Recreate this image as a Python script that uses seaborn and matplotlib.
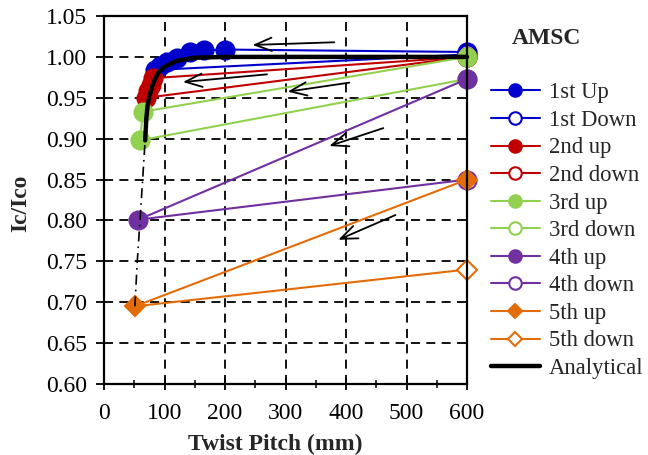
import matplotlib
matplotlib.use("Agg")
import matplotlib.pyplot as plt
import seaborn as sns
from matplotlib.ticker import MultipleLocator, FormatStrFormatter
from matplotlib.lines import Line2D

# Twist pitch (mm) and normalised critical current Ic/Ico for each bending cycle
first_up_x = [600, 200, 165, 142, 121, 104, 92, 84]
first_up_y = [1.006, 1.009, 1.008, 1.006, 0.999, 0.994, 0.989, 0.984]
first_down_x = [84, 600]
first_down_y = [0.984, 1.003]

second_up_x = [600, 81, 77, 73, 69]
second_up_y = [1.000, 0.974, 0.966, 0.958, 0.950]
second_down_x = [69, 600]
second_down_y = [0.950, 1.000]

third_up_x = [600, 64, 60]
third_up_y = [1.000, 0.933, 0.898]
third_down_x = [60, 600]
third_down_y = [0.898, 0.973]

fourth_up_x = [600, 57]
fourth_up_y = [0.973, 0.801]
fourth_down_x = [57, 600]
fourth_down_y = [0.801, 0.850]

fifth_up_x = [600, 51]
fifth_up_y = [0.850, 0.695]
fifth_down_x = [51, 600]
fifth_down_y = [0.695, 0.740]

# Analytical prediction (solid) and its extrapolation to short pitches (dash-dot)
analytical_x = [68, 70, 72, 75, 80, 85, 90, 100, 120, 150, 200, 300, 600]
analytical_y = [0.898, 0.925, 0.940, 0.952, 0.965, 0.974, 0.981, 0.988, 0.995, 0.999, 1.000, 1.000, 1.000]
extrap_x = [51, 55, 59.5, 63, 68]
extrap_y = [0.695, 0.750, 0.800, 0.840, 0.898]

# Arrows showing the direction of pitch change: (tail x, tail y, head x, head y)
arrows = [
    (385, 1.018, 241, 1.0145),
    (274, 0.979, 126, 0.969),
    (410, 0.969, 299, 0.957),
    (466, 0.914, 368, 0.890),
    (486, 0.808, 383, 0.775),
]

BLUE = "#0000CC"
RED = "#C00000"
GREEN = "#92D050"
PURPLE = "#7030A0"
ORANGE = "#E36C09"

series = [
    ("1st Up", first_up_x, first_up_y, BLUE, "o", True),
    ("1st Down", first_down_x, first_down_y, BLUE, "o", False),
    ("2nd up", second_up_x, second_up_y, RED, "o", True),
    ("2nd down", second_down_x, second_down_y, RED, "o", False),
    ("3rd up", third_up_x, third_up_y, GREEN, "o", True),
    ("3rd down", third_down_x, third_down_y, GREEN, "o", False),
    ("4th up", fourth_up_x, fourth_up_y, PURPLE, "o", True),
    ("4th down", fourth_down_x, fourth_down_y, PURPLE, "o", False),
    ("5th up", fifth_up_x, fifth_up_y, ORANGE, "D", True),
    ("5th down", fifth_down_x, fifth_down_y, ORANGE, "D", False),
]

sns.set_theme(style="white")
plt.rcParams["font.family"] = ["Liberation Serif", "DejaVu Serif"]

fig = plt.figure(figsize=(6.48, 4.55), dpi=100)
ax = fig.add_axes([0.1605, 0.156, 0.5602, 0.8088])

FS = 17
LFS = 17
LEGFS = 16.3
handles = []
for label, xs, ys, color, marker, filled in series:
    ms = 13 if marker == "o" else 10
    kw = dict(
        color=color, lw=1.5, marker=marker, markersize=ms,
        markerfacecolor=color if filled else "white",
        markeredgecolor=color, markeredgewidth=1.5,
    )
    if not filled:
        kw["markevery"] = [1]
    sns.lineplot(x=xs, y=ys, sort=False, ax=ax, legend=False, clip_on=False, **kw)
    lkw = dict(kw)
    lkw.pop("markevery", None)
    lkw["markersize"] = 9 if marker == "o" else 7.5
    handles.append(Line2D([], [], label=label, **lkw))

sns.lineplot(x=analytical_x, y=analytical_y, sort=False, ax=ax, legend=False,
             color="black", lw=3.2, zorder=5, clip_on=False)
sns.lineplot(x=extrap_x, y=extrap_y, sort=False, ax=ax, legend=False,
             color="black", lw=1.2, linestyle=(0, (6, 3, 1, 3)), zorder=5)
handles.append(Line2D([], [], color="black", lw=3.2, label="Analytical"))

for tx, ty, hx, hy in arrows:
    ax.annotate("", xy=(hx, hy), xytext=(tx, ty),
                arrowprops=dict(arrowstyle="->,head_length=1.0,head_width=0.4",
                                lw=1.3, color="black"), zorder=6)

ax.set_xlim(0, 600)
ax.set_ylim(0.60, 1.05)
ax.xaxis.set_major_locator(MultipleLocator(100))
ax.xaxis.set_minor_locator(MultipleLocator(50))
ax.yaxis.set_major_locator(MultipleLocator(0.05))
ax.yaxis.set_major_formatter(FormatStrFormatter("%.2f"))

ax.grid(True, which="major", axis="both", color="black", lw=1.3,
        linestyle=(0, (5, 3.5)))
ax.set_axisbelow(True)

for sp in ax.spines.values():
    sp.set_color("black")
    sp.set_linewidth(1.6)

ax.tick_params(axis="x", which="major", direction="inout", length=9, width=1.3,
               colors="black", labelsize=FS, pad=9, bottom=True)
ax.tick_params(axis="x", which="minor", direction="inout", length=6, width=1.1,
               colors="black", bottom=True)
ax.tick_params(axis="y", which="major", direction="out", length=6, width=1.3,
               colors="black", labelsize=FS, pad=6, left=True)

ax.set_xlabel("Twist Pitch (mm)", fontsize=LFS, fontweight="bold")
ax.set_ylabel("Ic/Ico", fontsize=LFS, fontweight="bold")
ax.xaxis.set_label_coords(0.471, -0.135)
ax.yaxis.set_label_coords(-0.2, 0.49)

fig.text(546 / 648, 1 - 38 / 455, "AMSC", fontsize=LFS, fontweight="bold",
         ha="center", va="center")

ax.legend(handles=handles, loc="upper left", bbox_to_anchor=(0.757, 0.819),
          bbox_transform=fig.transFigure, frameon=False, fontsize=LEGFS,
          handlelength=2.2, handletextpad=0.38, labelspacing=0.29,
          borderpad=0, borderaxespad=0)

fig.savefig("out.png", dpi=100)
